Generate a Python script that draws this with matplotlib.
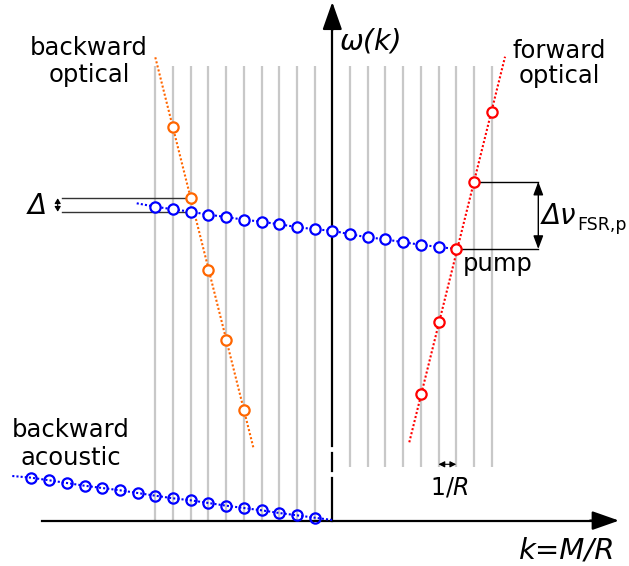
import numpy as np
import matplotlib
matplotlib.use("Agg")
import matplotlib.pyplot as plt

# ---------------- data (k in units of 1/R, omega in arbitrary units) ----------------
opt_k = np.arange(-10, 7)                      # blue optical modes (forward pump branch)
opt_w = [313.9, 311.3, 308.9, 305.9, 303.6, 300.9, 298.9, 296.3, 293.6,
         291.3, 289.9, 286.3, 283.3, 281.3, 278.3, 275.9, 273.6]
pump_k, pump_w = 7, 271.6

fwd_k = [5, 6, 7, 8, 9]                        # forward optical (red)
fwd_w = [126.9, 198.3, 271.6, 338.9, 408.9]
fwd_line_k = [4.35, 9.76]
fwd_line_w = [78.3, 463.9]

bwd_k = [-9, -8, -7, -6, -5]                   # backward optical (orange)
bwd_w = [393.3, 322.3, 250.6, 180.6, 110.6]
bwd_line_k = [-10.0, -4.45]
bwd_line_w = [463.3, 72.3]

ac_k = np.arange(-17, 0)                       # backward acoustic (blue)
ac_w = [42.9, 40.3, 37.6, 34.9, 32.6, 30.3, 27.6, 24.9, 22.3, 20.3,
        17.6, 14.9, 12.6, 10.3, 7.6, 5.3, 2.9]
ac_start = (-18.08, 44.6)
ac_end = (0.0, 0.6)
opt_start = (-11.05, 317.3)

left_grid_k = np.arange(-10, 0)
right_grid_k = np.arange(1, 10)

# ---------------- helpers for layout (pixel -> data) ----------------
X0, DX, Y0 = 332.3, 17.7, 520.6
def K(xp):
    return (xp - X0) / DX
def W(yp):
    return Y0 - yp

BLUE, RED, ORANGE, GREY = "#0000ff", "#ff0000", "#ff6600", "#c8c8c8"
dot = (0, (1, 1))

fig = plt.figure(figsize=(6.29, 5.66), dpi=100)
ax = fig.add_axes([0, 0, 1, 1])
ax.set_xlim(K(0), K(629))
ax.set_ylim(W(566), W(0))
ax.axis("off")

# grid lines (modes)
ax.vlines(left_grid_k, 0, W(65.5), color=GREY, lw=1.6, zorder=1)
ax.vlines(right_grid_k, W(466.7), W(66), color=GREY, lw=1.6, zorder=1)

# axes
ax.plot([K(41.7), K(600)], [0, 0], color="black", lw=1.6, zorder=2)
ax.annotate("", xy=(K(619), 0), xytext=(K(590), 0),
            arrowprops=dict(arrowstyle="-|>,head_length=1.65,head_width=0.58",
                            color="black", lw=1.6, shrinkA=0, shrinkB=0,
                            mutation_scale=10), zorder=3)
ax.plot([0, 0], [W(520.6), W(478)], color="black", lw=1.6, zorder=2)
ax.plot([0, 0], [W(470.7), W(453)], color="black", lw=1.6, zorder=2)
ax.plot([0, 0], [W(446), W(20)], color="black", lw=1.6, zorder=2)
ax.annotate("", xy=(0, W(2)), xytext=(0, W(30)),
            arrowprops=dict(arrowstyle="-|>,head_length=1.7,head_width=0.6",
                            color="black", lw=1.6, shrinkA=0, shrinkB=0,
                            mutation_scale=10), zorder=3)

mk = dict(marker="o", markersize=7.4, markeredgewidth=1.6)

# backward optical (orange)
ax.plot(bwd_line_k, bwd_line_w, color=ORANGE, lw=1.5, ls=dot, zorder=4)
ax.plot(bwd_k, bwd_w, ls="none", color=ORANGE, markerfacecolor="white", zorder=6, **mk)

# forward optical (red)
ax.plot(fwd_line_k, fwd_line_w, color=RED, lw=1.5, ls=dot, zorder=4)
ax.plot(fwd_k, fwd_w, ls="none", color=RED, markerfacecolor="white", zorder=6, **mk)

# optical blue branch
ax.plot(np.r_[opt_start[0], opt_k, pump_k], np.r_[opt_start[1], opt_w, pump_w],
        color=BLUE, lw=1.5, ls=dot, zorder=4)
ax.plot(opt_k, opt_w, ls="none", color=BLUE, markerfacecolor="white", zorder=5, **mk)

# acoustic branch
ax.plot(np.r_[ac_start[0], ac_k, ac_end[0]], np.r_[ac_start[1], ac_w, ac_end[1]],
        color=BLUE, lw=1.5, ls=dot, zorder=4)
ax.plot(ac_k, ac_w, ls="none", color=BLUE, markerfacecolor="none", zorder=5, **mk)

# Delta annotation
ax.plot([K(61.7), -8], [bwd_w[1], bwd_w[1]], color="#333333", lw=1, zorder=3)
ax.plot([K(61.7), -8], [opt_w[2], opt_w[2]], color="#333333", lw=1, zorder=3)
ax.annotate("", xy=(K(57.7), bwd_w[1]), xytext=(K(57.7), opt_w[2]),
            arrowprops=dict(arrowstyle="<|-|>,head_length=0.5,head_width=0.3",
                            color="black", lw=0.8, shrinkA=0, shrinkB=0,
                            mutation_scale=6))
ax.text(K(28), W(214), "Δ", fontsize=20, fontstyle="italic", ha="left", va="baseline")

# Delta nu FSR annotation
xa = K(538.3)
ax.plot([fwd_k[3], xa], [fwd_w[3], fwd_w[3]], color="black", lw=1, zorder=3)
ax.plot([pump_k, xa], [pump_w, pump_w], color="black", lw=1, zorder=3)
ax.annotate("", xy=(xa, fwd_w[3]), xytext=(xa, pump_w),
            arrowprops=dict(arrowstyle="<|-|>,head_length=0.8,head_width=0.3",
                            color="black", lw=1, shrinkA=0, shrinkB=0,
                            mutation_scale=10))
ax.text(K(541.5), W(224), "Δν", fontsize=20, fontstyle="italic", ha="left", va="baseline")
ax.text(K(577.5), W(230), "FSR,p", fontsize=12.5, ha="left", va="baseline")

# 1/R annotation
ax.annotate("", xy=(6, W(464.3)), xytext=(7, W(464.3)),
            arrowprops=dict(arrowstyle="<|-|>,head_length=0.6,head_width=0.3",
                            color="black", lw=0.8, shrinkA=0, shrinkB=0,
                            mutation_scale=6))
ax.text(K(449), W(494.3), "$1/R$", fontsize=17, ha="center", va="baseline")

# labels
fs = 17.5
ax.text(K(89), W(55), "backward", fontsize=fs, ha="center", va="baseline")
ax.text(K(89), W(81.7), "optical", fontsize=fs, ha="center", va="baseline")
ax.text(K(559.5), W(58.3), "forward", fontsize=fs, ha="center", va="baseline")
ax.text(K(559.5), W(83.3), "optical", fontsize=fs, ha="center", va="baseline")
ax.text(K(71), W(437.3), "backward", fontsize=fs, ha="center", va="baseline")
ax.text(K(71), W(465), "acoustic", fontsize=fs, ha="center", va="baseline")
ax.text(K(497.5), W(270.5), "pump", fontsize=fs, ha="center", va="baseline")
ax.text(K(340), W(49.5), "ω(k)", fontsize=20.5, fontstyle="italic", ha="left", va="baseline")
ax.text(K(519), W(558.3), "k=M/R", fontsize=21, fontstyle="italic", ha="left", va="baseline")

fig.savefig("out.png", dpi=100)
